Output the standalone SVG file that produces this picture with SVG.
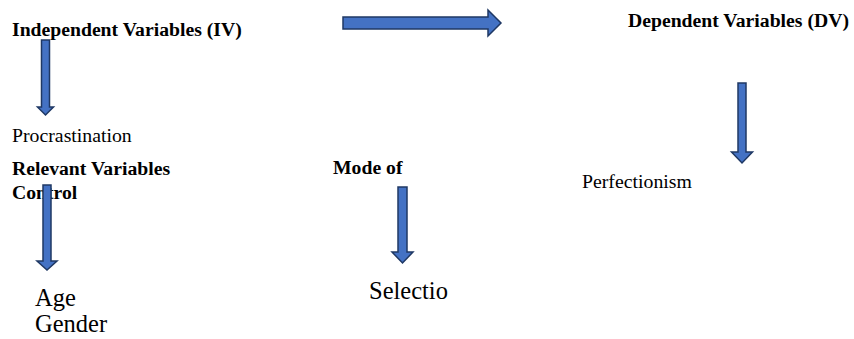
<svg xmlns="http://www.w3.org/2000/svg" width="854" height="339" viewBox="0 0 854 339">
<style>
.arr{fill:#4472C4;stroke:#1F3864;stroke-width:1.5;stroke-linejoin:miter}
</style>
<rect width="854" height="339" fill="#fff"/>
<g font-family="Liberation Serif, Times New Roman, serif" fill="#000">
<g id="iv"><text font-weight="bold" font-size="19.7" x="12" y="36">Independent Variables (IV)</text></g>
<g id="dv"><text font-weight="bold" font-size="19.7" x="628" y="27">Dependent Variables (DV)</text></g>
<g id="procrastination"><text font-size="19.8" x="12" y="142">Procrastination</text></g>
<g id="control"><text font-weight="bold" font-size="19.7" x="12" y="175">Relevant Variables</text><text font-weight="bold" font-size="19.7" x="12" y="199">Control</text></g>
<g id="mode"><text font-weight="bold" font-size="19.7" x="333" y="174">Mode of</text></g>
<g id="perfectionism"><text font-size="19.8" x="582" y="188">Perfectionism</text></g>
<g id="age-gender"><text font-size="24.5" x="35" y="306">Age</text><text font-size="24.5" x="35" y="332">Gender</text></g>
<g id="selection"><text font-size="24.5" x="369" y="299">Selectio</text></g>
</g>
<g id="connectors">
<polygon class="arr" points="343,17 488,17 488,10 501,23 488,36 488,29 343,29"/>
<polygon class="arr" points="41.5,40 49.5,40 49.5,107 53.5,107 45.5,115 37.5,107 41.5,107"/>
<polygon class="arr" points="738,83 746,83 746,152 752.5,152 742,163 731.5,152 738,152"/>
<polygon class="arr" points="43,185 51,185 51,261 57,261 47,270 37,261 43,261"/>
<polygon class="arr" points="398,187 407,187 407,252 413,252 402.5,263 392,252 398,252"/>
</g>
</svg>
